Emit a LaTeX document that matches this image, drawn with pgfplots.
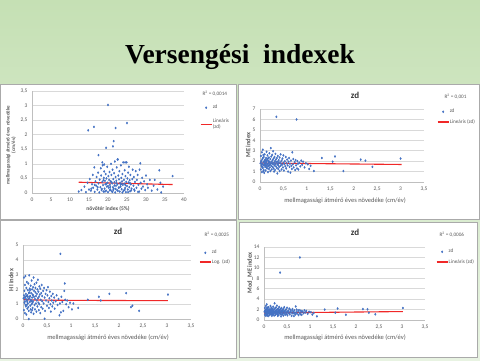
\documentclass[border=0pt]{standalone}
\usepackage{fontspec}
\setmainfont{Carlito}
\newfontfamily\titlefont{Liberation Serif}
\usepackage{pgfplots}
\pgfplotsset{compat=1.18}
\definecolor{bgtop}{RGB}{197,224,180}
\definecolor{bgbot}{RGB}{232,243,226}
\definecolor{ptblue}{RGB}{68,114,196}
\definecolor{trend}{RGB}{240,40,40}
\definecolor{gridgrey}{RGB}{217,217,217}
\definecolor{axisgrey}{RGB}{191,191,191}
\definecolor{labgrey}{RGB}{89,89,89}
\definecolor{panelborder}{RGB}{170,170,170}
\pgfplotsset{panel/.style={scale only axis, anchor=south west, xmin=0, ymin=0,
  axis x line*=bottom, axis y line*=left,
  axis line style={draw=axisgrey, line width=0.5pt},
  ymajorgrids, grid style={draw=gridgrey, line width=0.5pt},
  major tick length=0pt,
  tick label style={font=\fontsize{5.5}{6}\selectfont, text=labgrey},
  xticklabel style={yshift=-1pt}, yticklabel style={xshift=-1pt},
  /pgf/number format/use comma, /pgf/number format/assume math mode=true,
  legend style={draw=none, fill=none, font=\fontsize{5.2}{6}\selectfont, text=labgrey,
    anchor=north west, inner sep=0pt, nodes={inner sep=0.5pt},
    cells={anchor=west, align=left}},
  legend cell align=left, clip=false},
  pts/.style={only marks, mark=diamond*, mark size=1.0pt, color=ptblue,
    legend image code/.code={\draw[##1] plot coordinates {(5.5pt,0pt)};}},
  trl/.style={no marks, color=trend, line width=1.1pt,
    legend image code/.code={\draw[##1] (0pt,0pt) -- (11pt,0pt);}}}
\newcommand\rsq[1]{R\textsuperscript{2} = #1}
\begin{document}
\begin{tikzpicture}[x=1pt,y=1pt]
\useasboundingbox (0,0) rectangle (480,360);
\shade[top color=bgtop, bottom color=bgbot] (0,0) rectangle (480,360);
\node[anchor=base, font=\titlefont\bfseries\fontsize{27.5}{30}\selectfont] at (240,297) {Versengési\ \ indexek};
% panels
\draw[panelborder, fill=white, line width=0.6pt] (0.5,141) rectangle (236,276);
\draw[panelborder, fill=white, line width=0.6pt] (238,141) rectangle (479,276);
\draw[panelborder, fill=white, line width=0.6pt] (0.5,2) rectangle (236,140);
\draw[panelborder, fill=white, line width=0.6pt] (239,3) rectangle (477,138);

% ---------- Panel 1
\begin{axis}[panel, at={(32pt,167pt)}, width=152pt, height=102pt,
  xmax=40, ymax=3.5, xtick={0,5,...,40}, ytick={0,0.5,...,3.5},
  legend style={at={(1.105,0.868)}, row sep=8pt}]
\addplot[pts] coordinates {
(12.3,0.05) (13.0,0.10) (13.8,0.22) (14.2,0.03) (14.6,0.35) (15.0,0.12) (15.2,0.48) (15.5,0.08) (15.8,0.30) (16.0,0.62)
(16.1,0.18) (16.4,0.88) (16.5,0.04) (16.7,0.40) (16.9,0.25) (17.0,0.55) (17.2,0.12) (17.4,0.70) (17.5,0.33) (17.7,0.02)
(17.8,0.46) (18.0,0.20) (18.1,0.85) (18.2,0.60) (18.3,0.10) (18.5,0.38) (18.6,0.95) (18.7,0.27) (18.8,0.05) (18.9,0.52)
(19.0,0.74) (19.1,0.15) (19.2,0.42) (19.3,0.30) (19.4,0.65) (19.5,0.08) (19.6,0.50) (19.7,0.22) (19.8,0.90) (19.9,0.35)
(20.0,0.03) (20.1,0.58) (20.2,0.18) (20.3,0.45) (20.4,0.72) (20.5,0.28) (20.6,0.12) (20.7,0.40) (20.8,1.00) (20.9,0.62)
(21.0,0.06) (21.1,0.33) (21.2,0.80) (21.3,0.20) (21.4,0.48) (21.5,0.15) (21.6,0.68) (21.7,0.37) (21.8,1.08) (21.9,0.02)
(22.0,0.55) (22.1,0.25) (22.2,0.42) (22.3,0.88) (22.4,0.10) (22.5,0.30) (22.6,1.15) (22.7,0.60) (22.8,0.18) (22.9,0.47)
(23.0,0.75) (23.1,0.05) (23.2,0.35) (23.3,0.22) (23.4,0.95) (23.5,0.52) (23.6,0.13) (23.7,0.40) (23.8,0.65) (23.9,0.28)
(24.0,1.05) (24.1,0.08) (24.2,0.45) (24.3,0.32) (24.4,0.78) (24.5,0.17) (24.6,0.58) (24.7,0.03) (24.8,0.38) (24.9,1.05)
(25.0,0.24) (25.1,0.50) (25.2,0.12) (25.3,0.70) (25.4,0.36) (25.5,0.90) (25.6,0.20) (25.7,0.44) (25.8,0.06) (25.9,0.62)
(26.0,0.30) (26.2,0.15) (26.4,0.48) (26.5,0.80) (26.7,0.25) (26.8,0.55) (27.0,0.08) (27.1,0.38) (27.3,0.75) (27.5,0.18)
(27.6,0.45) (27.8,0.62) (28.0,0.28) (28.2,0.05) (28.3,0.80) (28.5,1.02) (28.6,0.35) (28.8,0.15) (29.0,0.52) (29.2,0.22)
(29.5,0.40) (29.8,0.10) (30.0,0.60) (30.3,0.30) (30.5,0.18) (31.0,0.45) (31.5,0.08) (32.0,0.25) (32.3,0.45) (33.0,0.12)
(33.5,0.78) (33.8,0.35) (34.0,0.02) (34.5,0.22) (37.0,0.58)
(19.2,0.05) (20.5,0.09) (21.2,0.04) (22.6,0.07) (23.8,0.02) (24.4,0.11) (25.3,0.03) (26.1,0.09) (18.4,0.14) (17.3,0.20)
(21.7,0.26) (22.9,0.19) (20.0,0.24) (19.6,0.32) (23.3,0.29) (24.6,0.27) (26.9,0.12) (27.9,0.04) (16.5,0.28) (15.6,0.15)
(20.9,0.38) (22.2,0.34) (21.4,0.11) (23.6,0.31) (25.8,0.34) (18.8,0.44) (22.0,0.14) (20.6,0.21)
(14.8,2.15) (16.3,2.27) (20.0,3.02) (22.0,2.23) (25.0,2.40) (21.5,1.78) (21.3,1.60) (19.5,1.55) (17.5,1.30) (22.5,1.15)
(18.5,1.05) (24.5,1.05) (19.0,0.98)};
\addlegendentry{zd}
\addplot[trl] coordinates {(12.3,0.37) (37,0.29)};
\addlegendentry{Lineáris\\(zd)}
\end{axis}
\node[anchor=west, font=\fontsize{5.2}{6}\selectfont, text=labgrey] at (199,266) {\rsq{0,0014}};
\node[font=\bfseries\fontsize{5.5}{6}\selectfont, text=labgrey] at (108,151) {növőtér index (5\%)};
\node[rotate=90, align=center, font=\bfseries\fontsize{5}{5.5}\selectfont, text=labgrey] at (11,215) {mellmagassági átmérő éves növedéke\\(cm/év)};

% ---------- Panel 2
\begin{axis}[panel, at={(260pt,178pt)}, width=164pt, height=73pt,
  xmax=3.5, ymax=7, xtick={0,0.5,...,3.5}, ytick={0,1,...,7},
  legend style={at={(1.079,1.007)}, row sep=4pt}]
\addplot[pts] coordinates {
(0.01,1.80) (0.02,2.50) (0.02,1.20) (0.03,2.05) (0.03,1.55) (0.04,0.95) (0.04,2.85) (0.05,1.70) (0.05,2.20) (0.06,1.35)
(0.06,3.10) (0.07,1.90) (0.07,1.05) (0.08,2.40) (0.08,1.60) (0.09,2.00) (0.09,0.88) (0.10,1.75) (0.10,2.65) (0.11,1.45)
(0.11,2.15) (0.12,1.85) (0.12,1.10) (0.13,2.30) (0.13,1.60) (0.14,2.90) (0.14,1.95) (0.15,1.30) (0.15,2.10) (0.16,1.70)
(0.16,2.55) (0.17,1.50) (0.17,0.95) (0.18,2.00) (0.18,1.80) (0.19,2.35) (0.19,1.25) (0.20,1.65) (0.20,2.75) (0.21,1.90)
(0.21,1.40) (0.22,2.20) (0.22,1.05) (0.23,1.75) (0.23,3.25) (0.24,2.45) (0.24,1.55) (0.25,1.95) (0.25,1.20) (0.26,2.60)
(0.26,1.80) (0.27,1.45) (0.27,2.10) (0.28,1.70) (0.28,2.95) (0.29,1.30) (0.29,2.25) (0.30,1.85) (0.30,1.00) (0.31,2.40)
(0.31,1.60) (0.32,2.00) (0.32,1.15) (0.33,1.75) (0.33,2.70) (0.34,1.50) (0.34,2.15) (0.35,1.90) (0.35,6.25) (0.36,1.35)
(0.36,2.30) (0.37,0.82) (0.37,1.70) (0.38,2.50) (0.38,1.95) (0.39,1.25) (0.39,1.60) (0.40,2.10) (0.40,1.80) (0.41,1.45)
(0.42,2.35) (0.42,1.05) (0.43,1.90) (0.44,2.65) (0.44,1.55) (0.45,1.75) (0.46,2.05) (0.46,1.20) (0.47,1.65) (0.48,2.25)
(0.49,1.40) (0.50,1.85) (0.50,2.55) (0.51,1.10) (0.52,1.70) (0.53,2.00) (0.54,1.50) (0.55,2.40) (0.56,1.30) (0.57,1.80)
(0.58,2.15) (0.59,1.60) (0.60,1.00) (0.61,1.95) (0.62,2.30) (0.63,1.45) (0.64,1.75) (0.65,0.90) (0.66,2.05) (0.67,1.55)
(0.68,1.25) (0.69,2.85) (0.70,1.70) (0.71,2.20) (0.72,1.40) (0.74,1.90) (0.75,1.15) (0.76,2.10) (0.77,1.60) (0.78,6.00)
(0.79,1.30) (0.80,2.00) (0.81,1.75) (0.82,1.20) (0.84,1.85) (0.86,1.50) (0.88,2.05) (0.90,1.65) (0.92,1.95) (0.95,1.40)
(0.98,1.80) (1.02,1.70) (1.05,1.25) (1.08,1.55) (1.15,1.05) (1.32,2.30) (1.55,1.95) (1.60,2.45) (1.78,1.05) (2.15,2.15)
(2.25,2.05) (2.40,1.45) (3.00,2.25)
(0.02,1.95) (0.04,1.50) (0.06,2.30) (0.08,1.15) (0.10,2.00) (0.12,1.60) (0.14,1.40) (0.16,2.20) (0.18,1.55) (0.20,1.95)
(0.03,1.75) (0.05,1.40) (0.07,2.60) (0.09,1.65) (0.11,1.85) (0.13,2.05) (0.15,1.75) (0.17,2.25) (0.19,1.90) (0.21,1.65)};
\addlegendentry{zd}
\addplot[trl] coordinates {(0,1.82) (3.02,1.68)};
\addlegendentry{Lineáris (zd)}
\end{axis}
\node[anchor=west, font=\fontsize{5.2}{6}\selectfont, text=labgrey] at (441,263) {\rsq{0,001}};
\node[font=\bfseries\fontsize{9}{10}\selectfont, text=black!80] at (355,265) {zd};
\node[font=\fontsize{6.5}{7}\selectfont, text=labgrey] at (345,159) {mellmagassági átmérő éves növedéke (cm/év)};
\node[rotate=90, font=\bfseries\fontsize{6.5}{7}\selectfont, text=labgrey] at (248,215) {ME index};

% ---------- Panel 3
\begin{axis}[panel, at={(23pt,41pt)}, width=168pt, height=74pt,
  xmax=3.5, ymax=5, xtick={0,0.5,...,3.5}, ytick={0,1,...,5},
  legend style={at={(1.048,0.939)}, row sep=3pt}]
\addplot[pts] coordinates {
(0.01,1.40) (0.02,2.80) (0.02,0.60) (0.03,1.90) (0.03,1.10) (0.04,0.40) (0.04,2.30) (0.05,1.50) (0.05,2.90) (0.06,0.85)
(0.06,1.70) (0.07,2.10) (0.07,0.30) (0.08,1.25) (0.08,2.50) (0.09,1.60) (0.09,0.70) (0.10,1.95) (0.10,1.05) (0.11,2.40)
(0.11,1.35) (0.12,0.55) (0.12,0.00) (0.13,1.80) (0.13,2.95) (0.14,1.15) (0.14,2.05) (0.15,0.90) (0.15,1.55) (0.16,2.25)
(0.16,1.30) (0.17,0.45) (0.17,1.75) (0.18,2.60) (0.18,1.00) (0.19,1.45) (0.19,2.00) (0.20,0.75) (0.20,1.65) (0.21,2.15)
(0.21,1.20) (0.22,2.80) (0.22,0.35) (0.23,1.50) (0.23,1.90) (0.24,0.95) (0.24,2.35) (0.25,1.35) (0.25,0.65) (0.26,1.80)
(0.26,2.10) (0.27,1.05) (0.27,1.55) (0.28,2.45) (0.28,0.50) (0.29,1.25) (0.29,1.70) (0.30,2.00) (0.30,0.85) (0.31,1.40)
(0.31,2.65) (0.32,1.10) (0.32,1.85) (0.33,0.60) (0.33,1.50) (0.34,2.20) (0.34,1.00) (0.35,1.65) (0.36,0.40) (0.36,2.05)
(0.37,1.30) (0.38,1.75) (0.38,0.80) (0.39,2.30) (0.40,1.20) (0.40,1.55) (0.41,0.70) (0.42,1.90) (0.43,1.05) (0.44,2.10)
(0.45,0.02) (0.45,1.45) (0.46,0.55) (0.47,1.70) (0.48,1.25) (0.49,1.95) (0.50,0.90) (0.51,1.60) (0.52,2.15) (0.53,1.15)
(0.54,0.75) (0.55,1.40) (0.56,1.85) (0.57,1.00) (0.58,0.50) (0.59,1.55) (0.60,1.25) (0.61,0.85) (0.62,1.70) (0.63,1.10)
(0.65,1.45) (0.66,0.70) (0.68,1.20) (0.70,1.60) (0.72,0.95) (0.74,1.35) (0.76,0.25) (0.77,1.05) (0.78,4.40) (0.79,0.45)
(0.80,1.50) (0.82,1.15) (0.84,0.55) (0.86,1.90) (0.87,2.40) (0.88,1.30) (0.90,1.00) (0.92,1.25) (0.95,0.80) (0.98,1.10)
(1.02,0.65) (1.05,1.05) (1.15,0.75) (1.35,1.30) (1.58,1.50) (1.62,1.25) (1.80,1.70) (2.15,1.75) (2.25,0.80) (2.28,0.90)
(2.42,0.55) (3.02,1.65)
(0.02,1.60) (0.04,1.20) (0.06,1.35) (0.08,0.95) (0.10,1.50) (0.12,1.75) (0.14,1.50) (0.16,0.65) (0.18,1.25) (0.20,1.10)
(0.03,1.45) (0.05,0.95) (0.07,1.55) (0.09,1.15) (0.11,0.80) (0.13,1.40) (0.15,1.95) (0.17,1.20) (0.19,0.60) (0.21,1.60)};
\addlegendentry{zd}
\addplot[trl] coordinates {(0.02,1.330) (0.05,1.314) (0.1,1.301) (0.2,1.289) (0.5,1.272) (1,1.260) (2,1.248) (3.02,1.240)};
\addlegendentry{Log. (zd)}
\end{axis}
\node[anchor=west, font=\fontsize{5.2}{6}\selectfont, text=labgrey] at (201,125) {\rsq{0,0025}};
\node[font=\bfseries\fontsize{9}{10}\selectfont, text=black!80] at (118,129) {zd};
\node[font=\fontsize{6.5}{7}\selectfont, text=labgrey] at (108,22) {mellmagassági átmérő éves növedéke (cm/év)};
\node[rotate=90, font=\bfseries\fontsize{6.5}{7}\selectfont, text=labgrey] at (11,80) {HI index};

% ---------- Panel 4
\begin{axis}[panel, at={(264pt,40pt)}, width=161pt, height=73pt,
  xmax=3.5, ymax=14, xtick={0,0.5,...,3.5}, ytick={0,2,...,14},
  legend style={at={(1.068,0.979)}, row sep=4pt}]
\addplot[pts] coordinates {
(0.01,1.60) (0.02,2.30) (0.02,1.00) (0.03,1.85) (0.03,1.35) (0.04,0.80) (0.04,2.70) (0.05,1.50) (0.05,2.00) (0.06,1.15)
(0.06,3.00) (0.07,1.70) (0.07,0.90) (0.08,2.20) (0.08,1.40) (0.09,1.80) (0.09,0.75) (0.10,1.55) (0.10,2.45) (0.11,1.25)
(0.11,1.95) (0.12,1.65) (0.12,0.95) (0.13,2.10) (0.13,1.40) (0.14,2.70) (0.14,1.75) (0.15,1.10) (0.15,1.90) (0.16,1.50)
(0.16,2.35) (0.17,1.30) (0.17,0.80) (0.18,1.80) (0.18,1.60) (0.19,2.15) (0.19,1.05) (0.20,1.45) (0.20,2.55) (0.21,1.70)
(0.21,1.20) (0.22,2.00) (0.22,0.85) (0.23,1.55) (0.23,3.20) (0.24,2.25) (0.24,1.35) (0.25,1.75) (0.25,1.00) (0.26,2.40)
(0.26,1.60) (0.27,1.25) (0.27,1.90) (0.28,1.50) (0.28,2.75) (0.29,1.10) (0.29,2.05) (0.30,1.65) (0.30,0.80) (0.31,2.20)
(0.31,1.40) (0.32,1.80) (0.32,0.95) (0.33,1.55) (0.33,2.50) (0.34,1.30) (0.34,1.95) (0.35,1.70) (0.35,9.10) (0.36,1.15)
(0.36,2.10) (0.37,0.70) (0.37,1.50) (0.38,2.30) (0.38,1.75) (0.39,1.05) (0.39,1.40) (0.40,1.90) (0.40,1.60) (0.41,1.25)
(0.42,2.15) (0.42,0.85) (0.43,1.70) (0.44,2.45) (0.44,1.35) (0.45,1.55) (0.46,1.85) (0.46,1.00) (0.47,1.45) (0.48,2.05)
(0.49,1.20) (0.50,1.65) (0.50,2.35) (0.51,0.90) (0.52,1.50) (0.53,1.80) (0.54,1.30) (0.55,2.20) (0.56,1.10) (0.57,1.60)
(0.58,1.95) (0.59,1.40) (0.60,0.80) (0.61,1.75) (0.62,2.10) (0.63,1.25) (0.64,1.55) (0.65,0.75) (0.66,1.85) (0.67,1.35)
(0.68,1.05) (0.69,2.60) (0.70,1.50) (0.71,2.00) (0.72,1.20) (0.74,1.70) (0.75,0.95) (0.76,1.90) (0.77,1.40) (0.78,12.00)
(0.79,1.10) (0.80,1.80) (0.81,1.55) (0.82,1.00) (0.84,1.65) (0.86,1.30) (0.88,1.85) (0.90,1.45) (0.92,1.75) (0.95,1.20)
(0.98,1.60) (1.02,1.50) (1.05,1.05) (1.08,1.35) (1.15,0.70) (1.32,2.00) (1.55,1.40) (1.60,2.20) (1.78,1.00) (2.15,2.10)
(2.25,2.05) (2.28,1.40) (2.42,1.10) (3.02,2.30)
(0.02,1.75) (0.04,1.30) (0.06,2.05) (0.08,1.00) (0.10,1.80) (0.12,1.40) (0.14,1.20) (0.16,2.00) (0.18,1.35) (0.20,1.75)
(0.03,1.55) (0.05,1.20) (0.07,2.40) (0.09,1.45) (0.11,1.65) (0.13,1.85) (0.15,1.55) (0.17,2.05) (0.19,1.70) (0.21,1.45)};
\addlegendentry{zd}
\addplot[trl] coordinates {(0,1.35) (3.02,1.62)};
\addlegendentry{Lineáris (zd)}
\end{axis}
\node[anchor=west, font=\fontsize{5.2}{6}\selectfont, text=labgrey] at (436,125) {\rsq{0,0006}};
\node[font=\bfseries\fontsize{9}{10}\selectfont, text=black!80] at (355,128) {zd};
\node[font=\fontsize{6.5}{7}\selectfont, text=labgrey] at (345,22) {mellmagassági átmérő éves növedéke (cm/év)};
\node[rotate=90, font=\bfseries\fontsize{6.5}{7}\selectfont, text=labgrey] at (250,87) {Mod\_ME index};
\end{tikzpicture}
\end{document}
